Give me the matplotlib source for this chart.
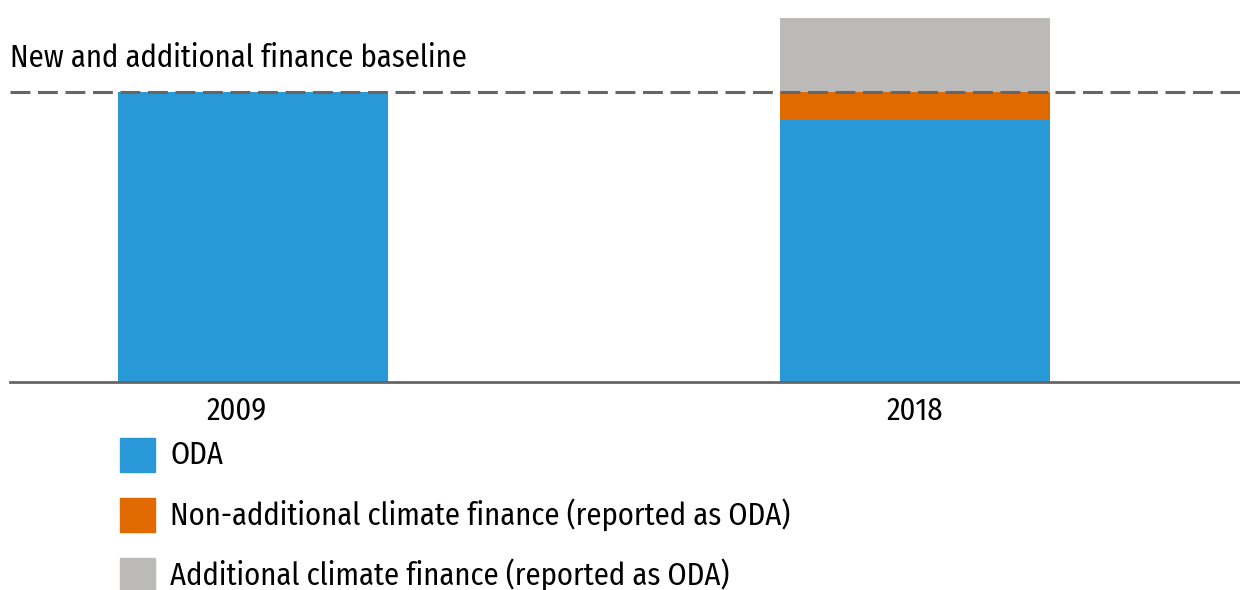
import numpy as np
import matplotlib.pyplot as plt
import matplotlib.transforms as mtransforms
from matplotlib.patches import Rectangle
from matplotlib import font_manager as fm

# pick a condensed sans if one is installed
font_path = None
for key in ['FiraSansCondensed-Regular', 'RobotoCondensed-Regular', 'NotoSans-Condensed.',
            'NotoSans-CondensedRegular', 'LiberationSansNarrow-Regular', 'DejaVuSansCondensed.',
            'OpenSans-CondensedRegular', 'OpenSans_Condensed-Regular']:
    for f in fm.fontManager.ttflist:
        if key.lower() in f.fname.replace(' ', '').lower():
            font_path = f.fname
            break
    if font_path:
        break
if font_path:
    fp = fm.FontProperties(fname=font_path)
else:
    fp = fm.FontProperties(family='DejaVu Sans', stretch='condensed')

# data (relative units, 2009 ODA = 100)
years = ['2009', '2018']
oda = [100, 90.5]
non_additional = [0, 9.5]
additional = [0, 25.5]
baseline = 100

labels = ['ODA', 'Non-additional climate finance (reported as ODA)',
          'Additional climate finance (reported as ODA)']
colors = ['#2899D6', '#E06A00', '#BBBAB8']

W, H = 1240, 590
fig = plt.figure(figsize=(W / 100, H / 100), dpi=100)
ax = fig.add_axes([10 / W, 1 - 382 / H, 1230 / W, 382 / H])

x = np.arange(len(years))
width = 0.408
oda = np.array(oda)
non_additional = np.array(non_additional)
additional = np.array(additional)

ax.bar(x, oda, width, color=colors[0])
ax.bar(x, non_additional, width, bottom=oda, color=colors[1])
ax.bar(x, additional, width, bottom=oda + non_additional, color=colors[2])

ax.axhline(baseline, color='#666666', lw=2.2, ls=(0, (6.5, 2.5)), zorder=5)

ax.set_xlim(-0.367, 1.491)
ax.set_ylim(0, 131.7)
ax.set_xticks(x)
ax.set_xticklabels(years, fontproperties=fp, fontsize=22)
ax.tick_params(axis='x', length=0, pad=10)
ax.set_yticks([])
for s in ['top', 'right', 'left']:
    ax.spines[s].set_visible(False)
ax.spines['bottom'].set_color('#666666')
ax.spines['bottom'].set_linewidth(2)

# the 2009 label sits a little left of its bar in the original
lab0 = ax.get_xticklabels()[0]
lab0.set_transform(lab0.get_transform() +
                   mtransforms.ScaledTranslation(-0.16, 0, fig.dpi_scale_trans))

fig.text(10 / W, 1 - 58 / H, 'New and additional finance baseline',
         fontproperties=fp, fontsize=22, va='center', ha='left')

# legend
for i, (lab, c) in enumerate(zip(labels, colors)):
    yc = 455 + 60 * i
    fig.add_artist(Rectangle((120 / W, 1 - (yc + 17) / H), 35 / W, 34 / H,
                             transform=fig.transFigure, color=c))
    fig.text(170 / W, 1 - yc / H, lab, fontproperties=fp, fontsize=22,
             va='center', ha='left')

fig.savefig('out.png', dpi=100)
